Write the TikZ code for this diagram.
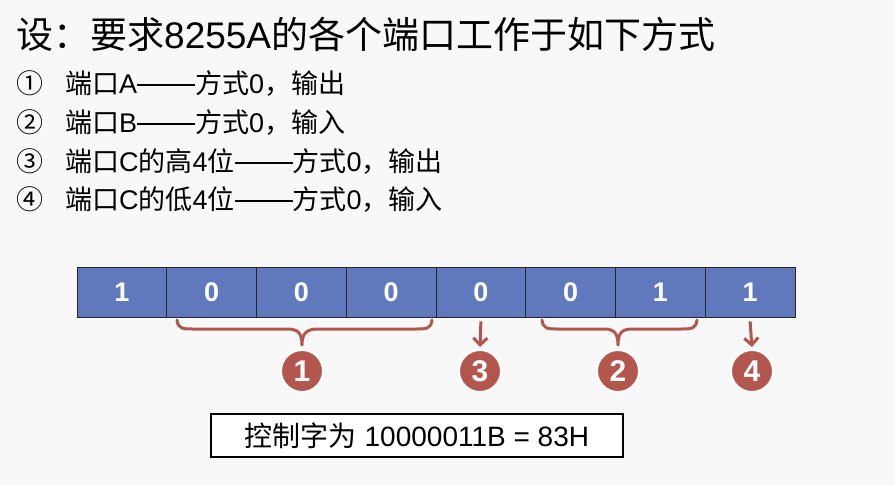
\documentclass[tikz,border=0pt]{standalone}
\usepackage{fontspec}
\setmainfont{Liberation Sans}
\newfontfamily\cjk{Noto Sans CJK SC}
\usetikzlibrary{arrows.meta}
\definecolor{bg}{HTML}{F8F8F8}
\definecolor{cellblue}{HTML}{6079BD}
\definecolor{markred}{HTML}{B3564E}
\newcommand\longdash{\rule[0.3em]{58pt}{1.6pt}}
\tikzset{
  txt/.style={anchor=west,inner sep=0pt,font=\fontsize{27pt}{32pt}\selectfont},
  cell/.style={draw=black!85,line width=0.8pt,fill=cellblue,minimum width=89.75pt,minimum height=50pt,inner sep=0pt,text=white,font=\fontsize{27pt}{30pt}\selectfont\bfseries},
  badge/.style={circle,fill=markred,draw=white,line width=2pt,minimum size=42pt,inner sep=0pt,text=white,font=\fontsize{30pt}{32pt}\selectfont\bfseries},
  bracket/.style={draw=markred,line width=3pt,line cap=round,line join=round},
  arr/.style={draw=markred,line width=3pt,-{Straight Barb[length=7pt,width=14pt,line width=3pt]},shorten >=2pt},
  ctrlbox/.style={draw=black,line width=1.5pt,fill=white,minimum width=412pt,minimum height=43pt,inner sep=0pt,font=\fontsize{28pt}{32pt}\selectfont}
}
\begin{document}
\begin{tikzpicture}[x=1pt,y=-1pt]
\fill[bg] (0,0) rectangle (895,485);
\useasboundingbox (0,0) rectangle (895,485);
% title
\node[anchor=west,inner sep=0pt,font=\fontsize{37pt}{42pt}\selectfont] (title) at (16,34) {{\cjk 设：要求}8255A{\cjk 的各个端口工作于如下方式}};
% list
\node[txt] (l1) at (16,84) {{\cjk ①}\hspace{22pt}{\cjk 端口}A\longdash{\cjk 方式}0{\cjk ，输出}};
\node[txt] (l2) at (16,123) {{\cjk ②}\hspace{22pt}{\cjk 端口}B\longdash{\cjk 方式}0{\cjk ，输入}};
\node[txt] (l3) at (16,162) {{\cjk ③}\hspace{22pt}{\cjk 端口}C{\cjk 的高}4{\cjk 位}\longdash{\cjk 方式}0{\cjk ，输出}};
\node[txt] (l4) at (16,200) {{\cjk ④}\hspace{22pt}{\cjk 端口}C{\cjk 的低}4{\cjk 位}\longdash{\cjk 方式}0{\cjk ，输入}};
% bit cells
\foreach \i/\b in {0/1,1/0,2/0,3/0,4/0,5/0,6/1,7/1}
  \node[cell] (c\i) at ({121.875+89.75*\i},292) {\b};
% badges
\node[badge] (n1) at (302,371) {1};
\node[badge] (n3) at (480,371) {3};
\node[badge] (n2) at (618,371) {2};
\node[badge] (n4) at (752,371) {4};
% braces
\draw[bracket] (177,320) .. controls (178,329) and (183,329) .. (193,329) -- (287,329) .. controls (298,329) and (302,333) .. (302,345) .. controls (302,333) and (307,329) .. (318,329) -- (416,329) .. controls (426,329) and (431,329) .. (432,320);
\draw[bracket] (542,320) .. controls (543,329) and (548,329) .. (558,329) -- (604,329) .. controls (614,329) and (618,333) .. (618,345) .. controls (618,333) and (622,329) .. (632,329) -- (681,329) .. controls (691,329) and (696,329) .. (697,320);
% arrows
\draw[arr] ([yshift=-4pt]c4.south) -- (n3.north);
\draw[arr] ([yshift=-4pt]c7.south) -- (n4.north);
% control word box
\node[ctrlbox] (ctrl) at (417,435.5) {{\cjk 控制字为} 10000011B = 83H};
\end{tikzpicture}
\end{document}
